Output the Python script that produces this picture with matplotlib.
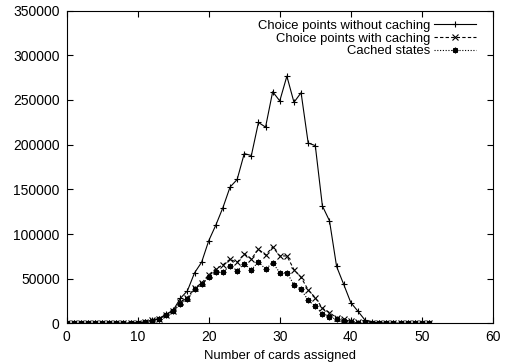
import matplotlib
matplotlib.use("Agg")
import matplotlib.pyplot as plt

plt.rcParams['font.family'] = ['Liberation Sans', 'DejaVu Sans']

# values, one per number of assigned cards (0..51)
cards = list(range(52))

no_cache = [0, 0, 0, 0, 0, 0, 0, 100, 300, 500,
            900, 1700, 3700, 5500, 10300, 14800, 28000, 36500, 56500, 68500,
            92500, 110000, 129600, 152500, 161000, 190000, 187800, 224800, 219600, 259200,
            248900, 276600, 247300, 258100, 201800, 198900, 131400, 114800, 63700, 43700,
            23300, 13700, 3700, 1500, 700, 400, 200, 100, 50, 20,
            10, 0]

with_cache = [0, 0, 0, 0, 0, 0, 0, 100, 200, 400,
              800, 1500, 3300, 5000, 9500, 14000, 24000, 28900, 39600, 45100,
              54400, 61100, 65500, 71800, 68200, 77800, 72200, 83000, 76500, 85500,
              75500, 75500, 60200, 51500, 37500, 28900, 17000, 12200, 6200, 4400,
              2300, 1200, 500, 300, 200, 100, 100, 50, 20, 10,
              0, 0]

cached = [0, 0, 0, 0, 0, 0, 0, 100, 200, 400,
          700, 1400, 3000, 4800, 9000, 13500, 22200, 27800, 38100, 43700,
          51800, 57000, 57500, 64400, 59200, 66700, 60000, 69000, 60700, 67900,
          56800, 56800, 43300, 38000, 25900, 19200, 11100, 7700, 4400, 2600,
          1200, 600, 300, 200, 100, 50, 50, 20, 10, 0,
          0, 0]

labels = ['Choice points without caching', 'Choice points with caching', 'Cached states']

fig = plt.figure(figsize=(5.05, 3.63), dpi=100)
ax = fig.add_axes([0.132, 0.109, 0.844, 0.862])

ax.plot(cards, no_cache, color='black', lw=0.8, ls='-', marker='+', ms=4.5, mew=0.8, label=labels[0])
ax.plot(cards, with_cache, color='black', lw=0.8, ls=(0, (3, 2)), marker='x', ms=4, mew=0.8, label=labels[1])
ax.plot(cards, cached, color='black', lw=0.8, ls=(0, (1, 1.5)), marker=(8, 2, 0), ms=4, mew=0.9, label=labels[2])

ax.set_xlim(0, 60)
ax.set_ylim(0, 350000)
ax.set_xticks(range(0, 61, 10))
ax.set_yticks(range(0, 350001, 50000))
ax.tick_params(direction='in', top=True, right=True, length=4, width=0.8, labelsize=10, pad=5)
for s in ax.spines.values():
    s.set_linewidth(0.8)

ax.set_xlabel('Number of cards assigned', fontsize=9.4, labelpad=4)

leg = ax.legend(loc='upper right', bbox_to_anchor=(0.981, 1.0), frameon=False,
                markerfirst=False, fontsize=9.4,
                handlelength=3.2, handletextpad=0.3, labelspacing=0.05,
                borderaxespad=0.4, borderpad=0.3)
leg._legend_box.align = 'right'

fig.savefig('out.png', dpi=100)
